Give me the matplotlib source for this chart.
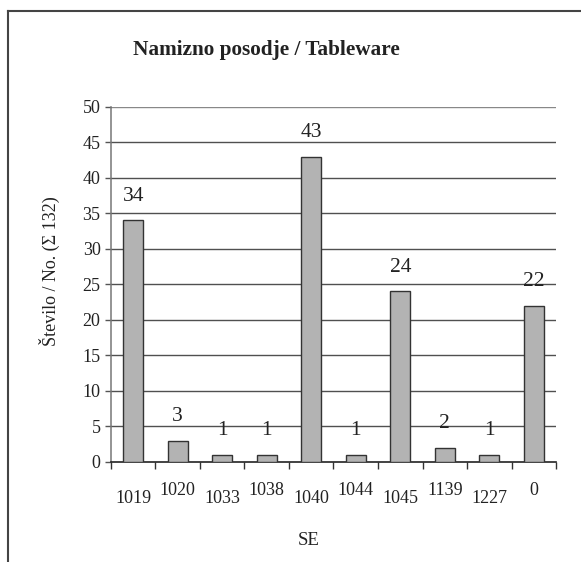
import matplotlib
matplotlib.use("Agg")
import matplotlib.pyplot as plt
from matplotlib.lines import Line2D

# Tableware counts per stratigraphic unit (SE)
units = ["1019", "1020", "1033", "1038", "1040", "1044", "1045", "1139", "1227", "0"]
counts = [34, 3, 1, 1, 43, 1, 24, 2, 1, 22]
y_ticks = [0, 5, 10, 15, 20, 25, 30, 35, 40, 45, 50]

title = "Namizno posodje / Tableware"
y_label = "Število / No. (Σ 132)"
x_label = "SE"

plt.rcParams["font.family"] = ["Liberation Serif", "DejaVu Serif"]

fig = plt.figure(figsize=(5.81, 5.62), dpi=100)
ax = fig.add_axes([0.191, 0.178, 0.766, 0.632])

n = len(units)
pos = list(range(n))

# horizontal grid lines
for v in y_ticks[1:]:
    ax.axhline(v, color="#888888" if v == y_ticks[-1] else "#505050",
               lw=1.0, zorder=1)

ax.bar(pos, counts, width=0.44, color="#b3b3b3", edgecolor="#333333",
       linewidth=1.0, zorder=3)

for i, c in enumerate(counts):
    ax.annotate(str(c), xy=(i, c), xytext=(0, 10.5), textcoords="offset points",
                ha="center", va="bottom", fontsize=15.5, color="#222222")

ax.set_xlim(-0.5, n - 0.5)
ax.set_ylim(0, 50)

ax.spines["top"].set_visible(False)
ax.spines["right"].set_visible(False)
ax.spines["left"].set_color("#777777")
ax.spines["bottom"].set_color("#222222")
ax.spines["left"].set_linewidth(1.1)
ax.spines["bottom"].set_linewidth(1.2)

ax.set_yticks(y_ticks)
ax.set_yticklabels([str(v) for v in y_ticks], fontsize=13, color="#222222")
ax.tick_params(axis="y", direction="out", length=4.5, width=1.0,
               color="#555555", pad=3)

# category boundary ticks on the x axis, labels staggered below
ax.set_xticks([p - 0.5 for p in pos] + [n - 0.5])
ax.set_xticklabels([])
ax.tick_params(axis="x", direction="out", length=5, width=1.0, color="#333333")

xt = ax.get_xaxis_transform()
for i, u in enumerate(units):
    off = -20 if i % 2 == 0 else -14.5
    ax.annotate(u, xy=(i, 0), xycoords=xt, xytext=(0, off),
                textcoords="offset points", ha="center", va="top",
                fontsize=13, color="#222222")

fig.text(0.458, 0.911, title, ha="center", va="center", fontsize=15.3,
         fontweight="bold", color="#222222")
fig.text(0.0843, 0.518, y_label, ha="center", va="center", rotation=90,
         fontsize=13, color="#222222")
fig.text(0.532, 0.0374, x_label, ha="center", va="center", fontsize=13.5,
         color="#222222")

# outer frame (left and top edges)
fx = 8 / 581
fy = 1 - 11 / 562
fig.add_artist(Line2D([fx, fx], [0, fy], transform=fig.transFigure,
                      color="#444444", lw=1.5))
fig.add_artist(Line2D([fx, 1], [fy, fy], transform=fig.transFigure,
                      color="#444444", lw=1.5))

fig.savefig("out.png", dpi=100)
